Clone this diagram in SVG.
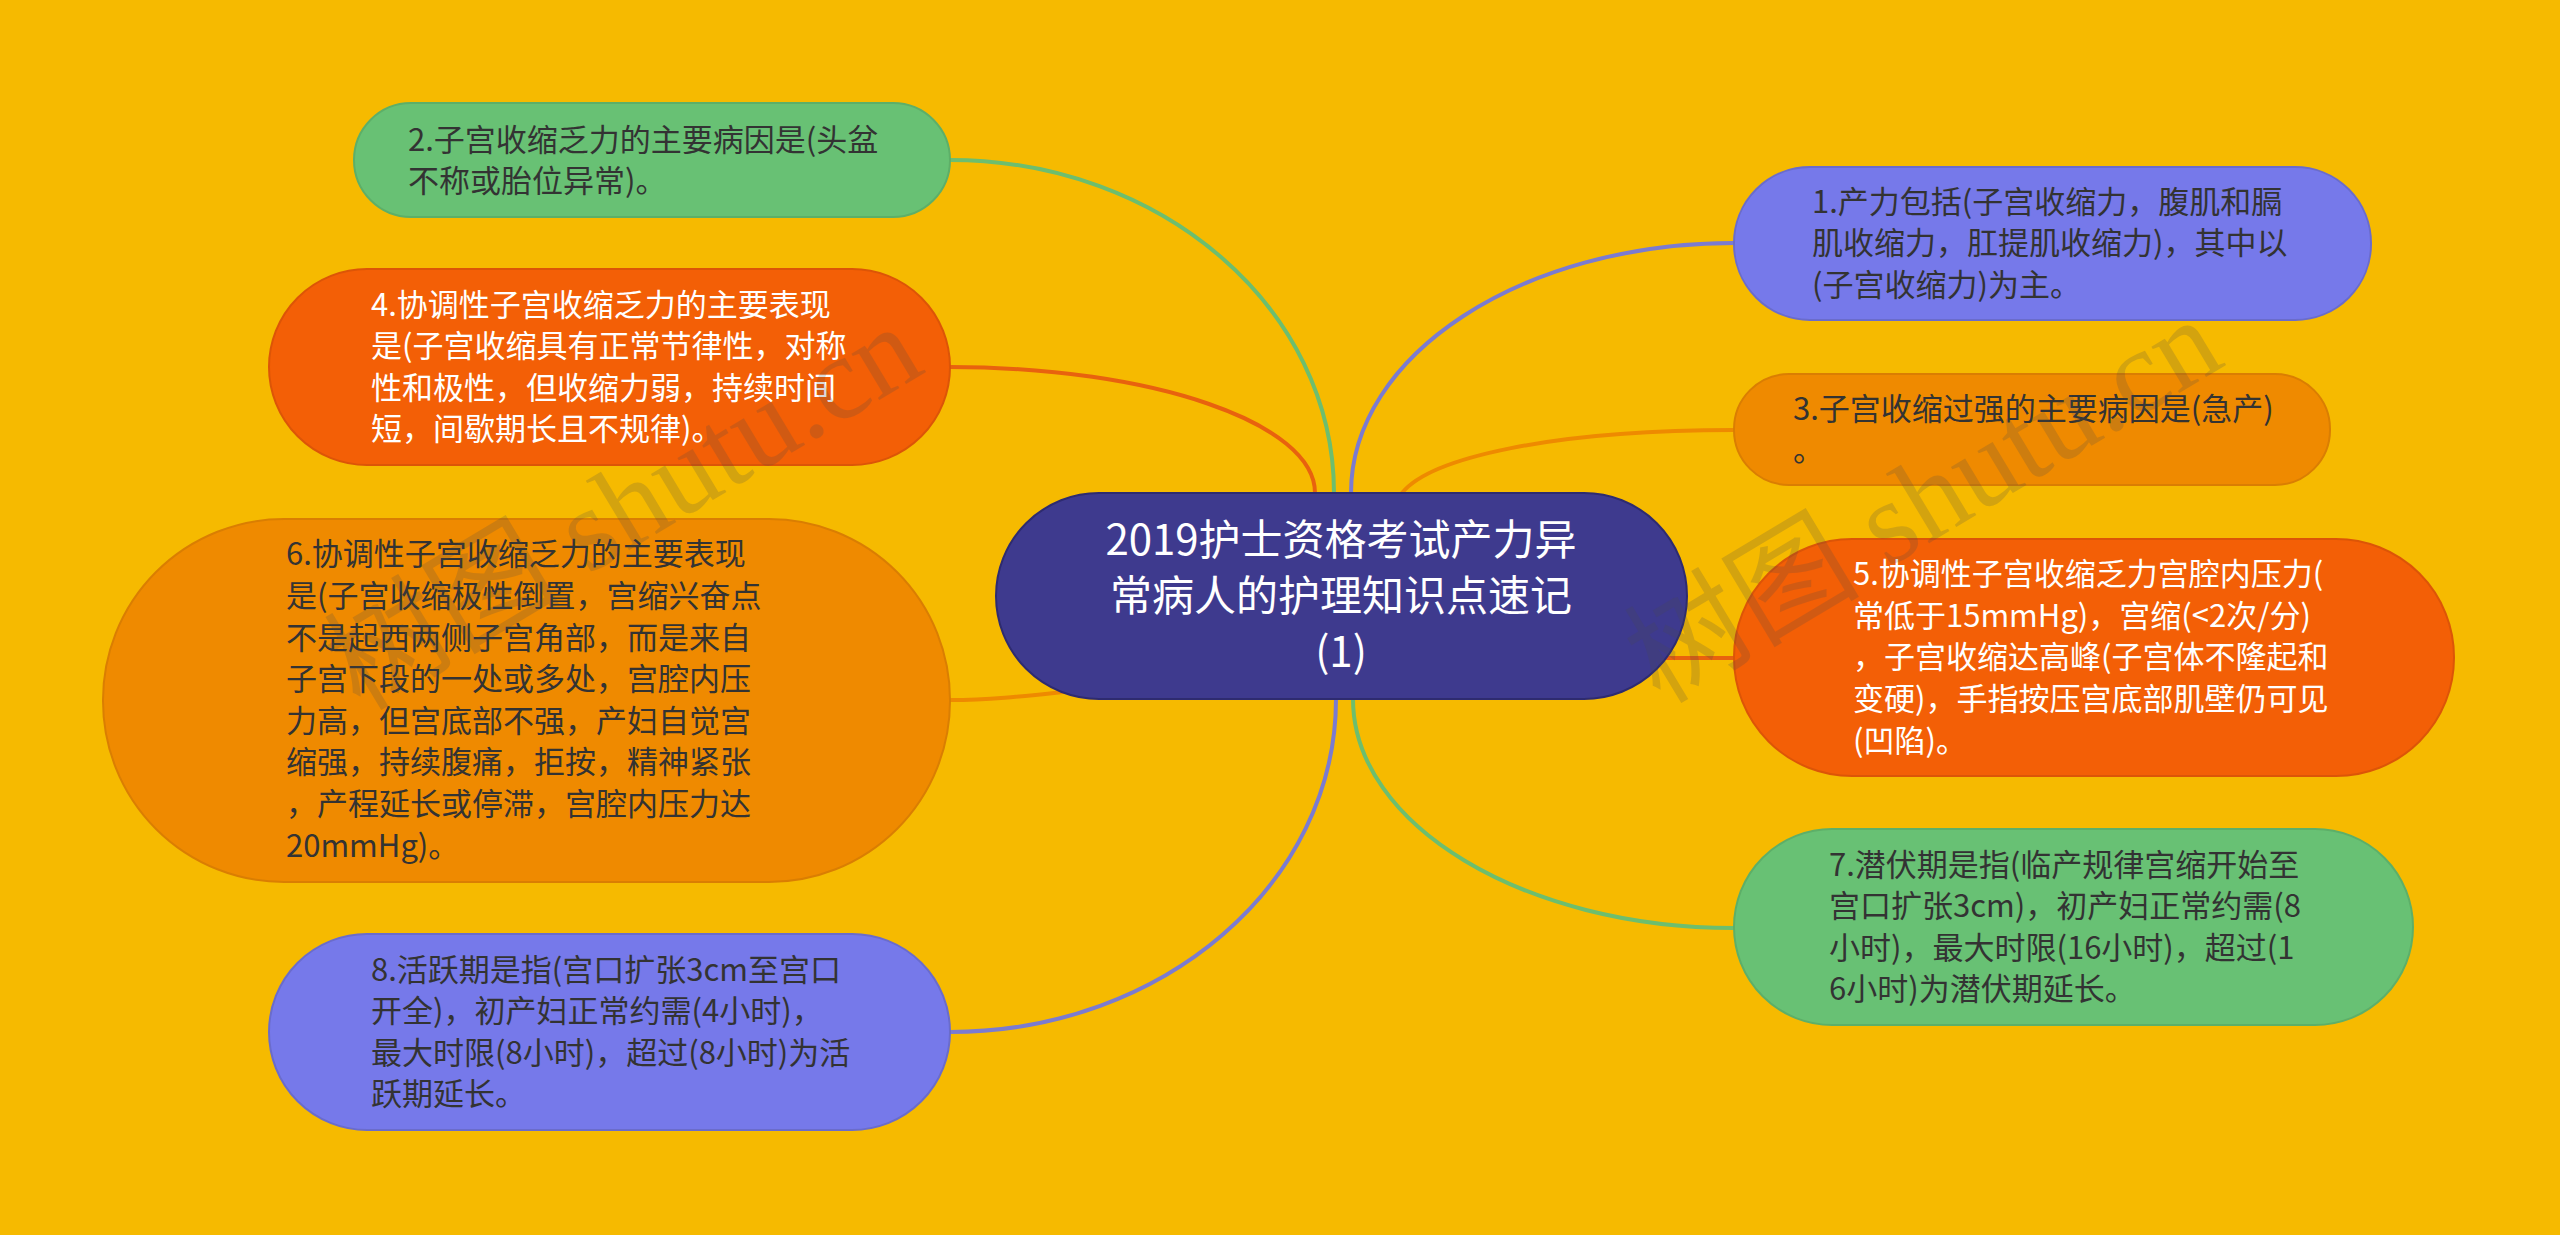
<svg xmlns="http://www.w3.org/2000/svg" width="2560" height="1235" viewBox="0 0 2560 1235">
<style>
.t{font-family:"Noto Sans CJK SC","Noto Sans",sans-serif;font-size:31px}
.dk{fill:#333333}
.wt{fill:#ffffff}
.title{font-family:"Noto Sans CJK SC","Noto Sans",sans-serif;font-size:42px;fill:#ffffff;text-anchor:middle}
.c{fill:none;stroke-width:4;stroke-linecap:round}
.green{fill:#68C174;stroke:#5DAF68;stroke-width:2}
.red{fill:#F35F06;stroke:#DC5507;stroke-width:2}
.orange{fill:#EF8A00;stroke:#DA7E02;stroke-width:2}
.blue{fill:#7679EA;stroke:#6A6CCB;stroke-width:2}
.wm{font-family:"Liberation Serif","Noto Sans CJK SC",serif;font-size:118px;fill:#4a4a4a;opacity:0.2}
</style>
<rect x="0" y="0" width="2560" height="1235" fill="#F6BA00"/>
<g id="connectors">
<path class="c" stroke="#6DBE6E" d="M1334,493 C1334,309 1162,160 950,160"/>
<path class="c" stroke="#E8620E" d="M1315,493 C1315,423 1152,367 950,367"/>
<path class="c" stroke="#EE8A00" d="M950,700 C1000,700 1040,694 1100,688"/>
<path class="c" stroke="#7B7BD0" d="M1336,699 C1336,883 1163,1032 950,1032"/>
<path class="c" stroke="#7B7BD0" d="M1351,493 C1351,355 1522,243 1734,243"/>
<path class="c" stroke="#EE8A00" d="M1402,493 C1430,458 1551,430 1734,430"/>
<path class="c" stroke="#E8620E" d="M1640,658 L1734,658"/>
<path class="c" stroke="#6DBE6E" d="M1353,699 C1353,825 1524,928 1734,928"/>
</g>
<g id="center">
<rect x="996" y="493" width="691" height="206" rx="103" fill="#3E3A8E" stroke="#2E2B70" stroke-width="2"/>
<text class="title"><tspan x="1341" y="555">2019护士资格考试产力异</tspan><tspan x="1341" y="611">常病人的护理知识点速记</tspan><tspan x="1341" y="667">(1)</tspan></text>
</g>
<g id="node2">
<rect class="green" x="354" y="103" width="596" height="114" rx="57"/>
<text class="t dk"><tspan x="408" y="151">2.子宫收缩乏力的主要病因是(头盆</tspan><tspan x="408" y="192">不称或胎位异常)。</tspan></text>
</g>
<g id="node4">
<rect class="red" x="269" y="269" width="681" height="196" rx="98"/>
<text class="t wt"><tspan x="371" y="316">4.协调性子宫收缩乏力的主要表现</tspan><tspan x="371" y="357">是(子宫收缩具有正常节律性，对称</tspan><tspan x="371" y="399">性和极性，但收缩力弱，持续时间</tspan><tspan x="371" y="440">短，间歇期长且不规律)。</tspan></text>
</g>
<g id="node6">
<rect class="orange" x="103" y="519" width="847" height="363" rx="181"/>
<text class="t dk"><tspan x="286" y="565">6.协调性子宫收缩乏力的主要表现</tspan><tspan x="286" y="607">是(子宫收缩极性倒置，宫缩兴奋点</tspan><tspan x="286" y="649">不是起西两侧子宫角部，而是来自</tspan><tspan x="286" y="690">子宫下段的一处或多处，宫腔内压</tspan><tspan x="286" y="732">力高，但宫底部不强，产妇自觉宫</tspan><tspan x="286" y="773">缩强，持续腹痛，拒按，精神紧张</tspan><tspan x="286" y="815">，产程延长或停滞，宫腔内压力达</tspan><tspan x="286" y="857">20mmHg)。</tspan></text>
</g>
<g id="node8">
<rect class="blue" x="269" y="934" width="681" height="196" rx="98"/>
<text class="t dk"><tspan x="371" y="981">8.活跃期是指(宫口扩张3cm至宫口</tspan><tspan x="371" y="1022">开全)，初产妇正常约需(4小时)，</tspan><tspan x="371" y="1064">最大时限(8小时)，超过(8小时)为活</tspan><tspan x="371" y="1105">跃期延长。</tspan></text>
</g>
<g id="node1">
<rect class="blue" x="1734" y="167" width="637" height="153" rx="76"/>
<text class="t dk"><tspan x="1812" y="213">1.产力包括(子宫收缩力，腹肌和膈</tspan><tspan x="1812" y="254">肌收缩力，肛提肌收缩力)，其中以</tspan><tspan x="1812" y="296">(子宫收缩力)为主。</tspan></text>
</g>
<g id="node3">
<rect class="orange" x="1734" y="374" width="596" height="111" rx="55"/>
<text class="t dk"><tspan x="1793" y="420">3.子宫收缩过强的主要病因是(急产)</tspan><tspan x="1793" y="461">。</tspan></text>
</g>
<g id="node5">
<rect class="red" x="1734" y="539" width="720" height="237" rx="118"/>
<text class="t wt"><tspan x="1853" y="585">5.协调性子宫收缩乏力宫腔内压力(</tspan><tspan x="1853" y="627">常低于15mmHg)，宫缩(&lt;2次/分)</tspan><tspan x="1853" y="668">，子宫收缩达高峰(子宫体不隆起和</tspan><tspan x="1853" y="710">变硬)，手指按压宫底部肌壁仍可见</tspan><tspan x="1853" y="752">(凹陷)。</tspan></text>
</g>
<g id="node7">
<rect class="green" x="1734" y="829" width="679" height="196" rx="98"/>
<text class="t dk"><tspan x="1829" y="876">7.潜伏期是指(临产规律宫缩开始至</tspan><tspan x="1829" y="917">宫口扩张3cm)，初产妇正常约需(8</tspan><tspan x="1829" y="959">小时)，最大时限(16小时)，超过(1</tspan><tspan x="1829" y="1000">6小时)为潜伏期延长。</tspan></text>
</g>
<g id="watermarks">
<text class="wm" transform="translate(360,712) rotate(-31)">树图 shutu.cn</text>
<text class="wm" transform="translate(1660,705) rotate(-31)">树图 shutu.cn</text>
</g>
</svg>
